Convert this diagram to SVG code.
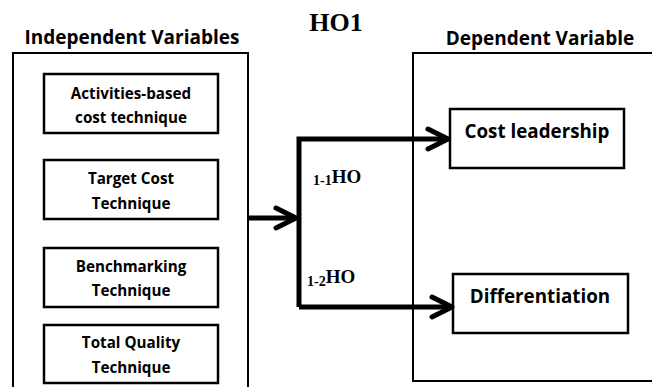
<svg xmlns="http://www.w3.org/2000/svg" width="652" height="387" viewBox="0 0 652 387">
  <style>
    .frame { fill: #ffffff; stroke: #000000; stroke-width: 2; }
    .box { fill: #ffffff; stroke: #000000; stroke-width: 2.5; }
    .head { font-family: "Open Sans", "Liberation Sans", sans-serif; font-weight: bold; font-size: 19px; fill: #000000; text-anchor: middle; }
    .lbl { font-family: "Open Sans", "Liberation Sans", sans-serif; font-weight: bold; font-size: 15.2px; fill: #000000; text-anchor: middle; }
    .big { font-family: "Open Sans", "Liberation Sans", sans-serif; font-weight: bold; font-size: 18.8px; fill: #000000; text-anchor: middle; }
    .ser { font-family: "Liberation Serif", "Times New Roman", serif; font-weight: bold; fill: #000000; }
    .wire { fill: none; stroke: #000000; stroke-width: 5; stroke-linejoin: miter; }
  </style>
  <defs>
    <marker id="chev" viewBox="-24 -14 28 28" refX="-2" refY="0" markerWidth="28" markerHeight="28" markerUnits="userSpaceOnUse" orient="auto">
      <path d="M-20,-10 L0,0 L-20,10" fill="none" stroke="#000000" stroke-width="5" stroke-linejoin="round" stroke-linecap="round"/>
    </marker>
  </defs>

  <rect width="652" height="387" fill="#ffffff"/>

  <text class="ser" x="336" y="31" font-size="26" text-anchor="middle">HO1</text>

  <!-- independent side -->
  <g id="independent">
    <text class="head" x="132" y="44">Independent Variables</text>
    <rect class="frame" x="13" y="53" width="235" height="345"/>
  </g>
  <g id="abc">
    <rect class="box" x="44" y="74" width="174" height="59"/>
    <text class="lbl" x="131" y="99">Activities-based</text>
    <text class="lbl" x="131" y="123">cost technique</text>
  </g>
  <g id="target">
    <rect class="box" x="44" y="160" width="174" height="59"/>
    <text class="lbl" x="131" y="184">Target Cost</text>
    <text class="lbl" x="131" y="209">Technique</text>
  </g>
  <g id="bench">
    <rect class="box" x="44" y="248" width="174" height="59"/>
    <text class="lbl" x="131" y="272">Benchmarking</text>
    <text class="lbl" x="131" y="296">Technique</text>
  </g>
  <g id="tqm">
    <rect class="box" x="44" y="325" width="174" height="58"/>
    <text class="lbl" x="131" y="348">Total Quality</text>
    <text class="lbl" x="131" y="373">Technique</text>
  </g>

  <!-- dependent side -->
  <g id="dependent">
    <text class="head" x="540" y="45">Dependent Variable</text>
    <rect class="frame" x="413" y="53" width="260" height="328"/>
  </g>
  <g id="cost">
    <rect class="box" x="450" y="109" width="174" height="59"/>
    <text class="big" x="537" y="138">Cost leadership</text>
  </g>
  <g id="diff">
    <rect class="box" x="453" y="274" width="175" height="59"/>
    <text class="big" x="540" y="303">Differentiation</text>
  </g>

  <!-- connectors -->
  <g id="connectors">
    <path class="wire" d="M248,218 H294" marker-end="url(#chev)"/>
    <path class="wire" d="M299,307 V139 H446" marker-end="url(#chev)"/>
    <path class="wire" d="M299,307 H450" marker-end="url(#chev)"/>
    <text class="ser" x="313" y="185"><tspan font-size="14">1-1</tspan><tspan font-size="19" dy="-2">HO</tspan></text>
    <text class="ser" x="307" y="286"><tspan font-size="14">1-2</tspan><tspan font-size="19" dy="-3">HO</tspan></text>
  </g>
</svg>
